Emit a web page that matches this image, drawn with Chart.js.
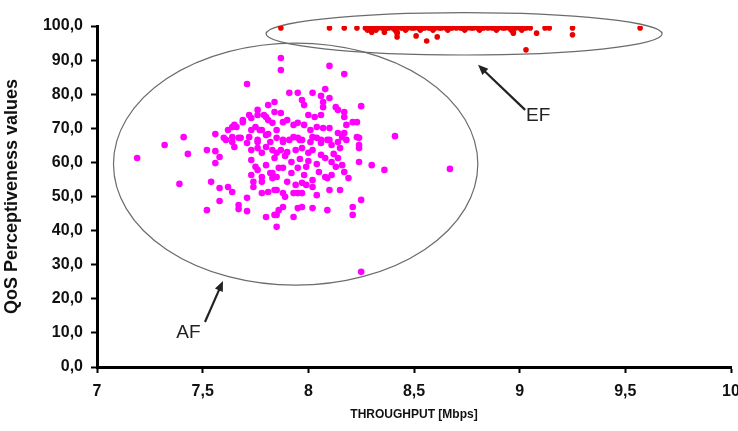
<!DOCTYPE html>
<html>
<head>
<meta charset="utf-8">
<script src="https://cdn.jsdelivr.net/npm/chart.js@4"></script>
<style>
  body { margin: 0; background: #fff; }
  #wrap { width: 738px; height: 431px; }
</style>
</head>
<body>
<div id="wrap"><canvas id="chart" width="738" height="431"></canvas></div>
<script>
// AF class (magenta) readings
const afX = [
  7.19, 7.32, 7.41, 7.43, 7.52, 7.56, 7.58, 7.56, 7.39, 7.54, 7.58, 7.62, 7.64, 7.58, 7.71, 7.52, 7.67, 7.67, 7.71, 7.80,
  7.85, 7.85, 7.56, 7.71, 7.87, 7.87, 8.10, 8.17, 8.25, 8.41, 8.30, 8.36, 8.67, 8.25, 8.25, 8.21, 8.21,
  7.91, 7.95, 8.02, 8.08, 7.97, 7.98, 8.06, 8.07, 8.07, 8.10, 8.13, 8.14, 8.17, 8.17, 7.84, 7.81, 7.76, 7.72, 7.69, 7.66,
  7.84, 7.87, 7.79, 7.81, 7.83, 7.75, 7.78, 7.88, 7.90, 7.93, 7.95, 7.98, 8.00, 8.03, 8.06, 8.01, 8.04, 8.07, 8.10, 8.18,
  8.21, 8.23, 8.23, 8.24, 8.17, 8.18, 7.64, 7.64, 7.68, 7.72, 7.76, 7.81, 7.85, 7.88, 7.93, 7.96, 8.02, 8.06, 8.10, 8.14,
  7.62, 7.65, 7.69, 7.73, 7.76, 7.77, 7.73, 7.80, 7.60, 7.67,
  7.61, 7.64, 7.65, 7.71, 7.73, 7.76, 7.76, 7.78, 7.80, 7.82, 7.83, 7.73, 7.75, 7.76, 7.73, 7.74, 7.74, 7.78, 7.78, 7.82,
  7.83, 7.86, 7.81, 7.78, 7.85, 7.85, 7.80,
  7.85, 7.88, 7.91, 7.95, 7.97, 8.01, 8.04, 8.06, 8.09, 8.11, 8.14, 8.15, 8.16, 7.87, 7.90, 7.94, 7.97, 8.00, 8.02, 8.06,
  8.08, 8.11, 7.84, 7.88, 7.95, 7.99, 7.83, 7.85, 7.90, 7.94, 7.97, 7.99, 8.02, 8.02, 8.08, 8.09, 8.11, 8.13, 8.16, 8.17,
  8.19, 8.24, 8.24, 7.84, 7.88, 7.89, 7.93, 7.95, 7.97, 8.04, 8.10, 8.15, 7.88, 7.86, 7.84, 7.95, 7.97, 7.93, 8.02, 8.09,
  8.24, 7.80, 7.92, 7.96, 8.00, 8.04, 7.89, 8.12, 8.14, 7.98, 8.05, 7.92
];
const afY = [
  61.3, 65.1, 67.4, 62.5, 63.6, 63.3, 61.6, 59.8, 53.7, 54.3, 52.5, 52.8, 51.3, 48.7, 49.6, 46.0, 47.5, 46.3, 45.7, 44.0,
  44.6, 41.1, 68.3, 83.0, 90.6, 87.1, 88.3, 85.9, 76.5, 67.7, 59.2, 57.8, 58.1, 49.0, 27.9, 44.6, 46.9,
  80.4, 80.4, 80.4, 81.5, 78.3, 76.8, 79.5, 77.7, 76.2, 78.9, 76.2, 75.4, 74.8, 73.3, 77.7, 76.8, 75.4, 73.9, 71.8, 70.4,
  74.8, 74.5, 73.9, 72.4, 71.6, 70.4, 69.5, 71.8, 72.4, 71.0, 71.6, 71.0, 73.9, 73.3, 73.9, 69.5, 70.4, 70.1, 70.1, 71.0,
  71.8, 71.8, 67.4, 65.1, 68.6, 66.6, 70.4, 67.4, 67.2, 67.4, 66.6, 68.3, 69.5, 66.6, 67.4, 66.6, 67.4, 66.6, 66.6, 68.6,
  69.5, 71.0, 72.4, 73.0, 73.9, 69.5, 69.5, 73.3, 67.2, 67.2,
  66.6, 66.0, 64.5, 65.7, 63.6, 66.0, 64.2, 62.8, 64.5, 66.0, 63.6, 60.7, 58.7, 57.8, 56.3, 54.3, 52.8, 55.7, 54.3, 56.9,
  55.4, 58.4, 51.3, 51.0, 51.9, 62.8, 59.2,
  67.2, 66.0, 66.6, 67.2, 66.6, 66.0, 67.2, 65.7, 66.6, 65.1, 66.0, 64.2, 67.4, 63.6, 63.0, 63.6, 64.2, 62.8, 63.6, 62.2,
  61.3, 60.1, 61.3, 58.4, 58.4, 58.7, 56.9, 55.7, 54.3, 53.4, 54.0, 53.4, 54.8, 52.8, 55.7, 55.4, 56.3, 58.7, 59.2, 57.2,
  55.4, 64.2, 60.1, 51.9, 51.0, 49.9, 51.0, 51.0, 51.0, 50.4, 51.9, 51.9, 46.9, 46.0, 44.6, 46.6, 46.9, 44.0, 46.6, 46.0,
  67.2, 68.0, 60.1, 61.0, 60.4, 59.5, 61.9, 62.5, 61.3, 56.3, 57.2, 56.9
];

// EF class (red) readings
const efX = [
  7.87, 8.10, 8.17, 8.23, 8.27, 8.29, 8.31, 8.33, 8.35, 8.37, 8.38, 8.40, 8.42, 8.44, 8.45, 8.47, 8.49, 8.50, 8.52, 8.54,
  8.55, 8.57, 8.58, 8.60, 8.62, 8.63, 8.65, 8.67, 8.68, 8.70, 8.72, 8.73, 8.75, 8.77, 8.78, 8.80, 8.82, 8.83, 8.85, 8.87,
  8.88, 8.90, 8.92, 8.93, 8.95, 8.97, 8.98, 9.00, 9.02, 9.03, 9.05, 9.12, 9.14, 9.25, 9.57,
  8.28, 8.32, 8.36, 8.41, 8.46, 8.53, 8.59, 8.66, 8.74, 8.81, 8.89, 8.96, 9.01,
  8.30, 8.36, 8.42, 8.97, 8.42, 8.42, 8.51, 8.56, 8.61, 8.97, 9.08, 9.03, 9.25
];
const efY = [
  99.4, 99.4, 99.4, 99.4, 99.4, 99.4, 99.4, 99.4, 99.4, 99.4, 99.4, 99.4, 99.4, 99.4, 99.4, 99.4, 99.4, 99.4, 99.4, 99.4,
  99.4, 99.4, 99.4, 99.4, 99.4, 99.4, 99.4, 99.4, 99.4, 99.4, 99.4, 99.4, 99.4, 99.4, 99.4, 99.4, 99.4, 99.4, 99.4, 99.4,
  99.4, 99.4, 99.4, 99.4, 99.4, 99.4, 99.4, 99.4, 99.4, 99.4, 99.4, 99.4, 99.4, 99.4, 99.4,
  98.8, 98.8, 98.8, 98.8, 98.8, 98.8, 98.8, 98.8, 98.8, 98.8, 98.8, 98.8, 98.8,
  98.2, 98.2, 98.2, 98.2, 96.8, 97.9, 97.1, 95.6, 96.8, 97.9, 97.9, 93.0, 97.4
];

const xTicks = [7, 7.5, 8, 8.5, 9, 9.5, 10];
const yTicks = [0, 10, 20, 30, 40, 50, 60, 70, 80, 90, 100];

const toPoints = (xs, ys) => xs.map((x, i) => ({ x: x, y: ys[i] }));
const comma = (v, d) => v.toFixed(d).replace('.', ',');

// ellipses around the two classes and the labelled arrows
const groupMarks = {
  id: 'groupMarks',
  beforeDatasetsDraw(chart) {
    const { ctx, scales: { x, y } } = chart;
    const ring = (cxv, cyv, rxv, ryv) => {
      const cx = x.getPixelForValue(cxv);
      const cy = y.getPixelForValue(cyv);
      const rx = x.getPixelForValue(cxv + rxv) - cx;
      const ry = cy - y.getPixelForValue(cyv + ryv);
      ctx.beginPath();
      ctx.ellipse(cx, cy, rx, ry, 0, 0, Math.PI * 2);
      ctx.stroke();
    };
    ctx.save();
    ctx.strokeStyle = '#6b6b6b';
    ctx.lineWidth = 1.2;
    ring(7.94, 59.5, 0.862, 35.5);
    ring(8.737, 97.7, 0.937, 6.2);
    ctx.restore();
  },
  afterDatasetsDraw(chart) {
    const { ctx, scales: { x, y } } = chart;
    const arrow = (x0, y0, x1, y1) => {
      const ax = x.getPixelForValue(x0), ay = y.getPixelForValue(y0);
      const bx = x.getPixelForValue(x1), by = y.getPixelForValue(y1);
      const ang = Math.atan2(by - ay, bx - ax);
      const head = 11;
      ctx.beginPath();
      ctx.moveTo(ax, ay);
      ctx.lineTo(bx - Math.cos(ang) * head * 0.8, by - Math.sin(ang) * head * 0.8);
      ctx.stroke();
      ctx.beginPath();
      ctx.moveTo(bx, by);
      ctx.lineTo(bx - head * Math.cos(ang - 0.4), by - head * Math.sin(ang - 0.4));
      ctx.lineTo(bx - head * Math.cos(ang + 0.4), by - head * Math.sin(ang + 0.4));
      ctx.closePath();
      ctx.fill();
    };
    ctx.save();
    ctx.strokeStyle = '#222';
    ctx.fillStyle = '#222';
    ctx.lineWidth = 2.2;
    arrow(9.026, 75.4, 8.803, 88.6);
    arrow(7.511, 13.2, 7.596, 25.2);
    ctx.font = '19px "Liberation Sans", Arial, sans-serif';
    ctx.textBaseline = 'middle';
    ctx.textAlign = 'left';
    ctx.fillText('EF', x.getPixelForValue(9.03), y.getPixelForValue(73.6));
    ctx.textAlign = 'right';
    ctx.fillText('AF', x.getPixelForValue(7.49), y.getPixelForValue(10.0));
    ctx.restore();
  }
};

const tickFont = { family: '"Liberation Sans", Arial, sans-serif', size: 16, weight: 'bold' };

new Chart(document.getElementById('chart'), {
  type: 'scatter',
  data: {
    datasets: [
      {
        label: 'AF',
        data: toPoints(afX, afY),
        backgroundColor: 'rgb(255, 0, 255)',
        borderColor: 'rgb(255, 0, 255)',
        pointRadius: 3.3,
        borderWidth: 0
      },
      {
        label: 'EF',
        data: toPoints(efX, efY),
        backgroundColor: 'rgb(235, 0, 0)',
        borderColor: 'rgb(235, 0, 0)',
        pointRadius: 2.8,
        borderWidth: 0
      }
    ]
  },
  options: {
    responsive: false,
    animation: false,
    layout: { padding: { top: 26, right: 7, left: 0, bottom: 0 } },
    plugins: {
      legend: { display: false },
      tooltip: { enabled: false }
    },
    scales: {
      x: {
        type: 'linear',
        min: 7,
        max: 10,
        afterBuildTicks: (s) => { s.ticks = xTicks.map(v => ({ value: v })); },
        afterFit: (s) => { s.height = 64; s.paddingLeft = 0; s.paddingRight = 0; },
        grid: { drawOnChartArea: false, drawTicks: true, tickLength: 6, tickWidth: 2, tickColor: '#000' },
        border: { display: true, color: '#000', width: 3 },
        ticks: {
          padding: 9,
          color: '#111',
          font: tickFont,
          maxRotation: 0,
          callback: (v) => comma(v, v % 1 === 0 ? 0 : 1)
        },
        title: {
          display: true,
          text: 'THROUGHPUT [Mbps]',
          color: '#111',
          font: { family: '"Liberation Sans", Arial, sans-serif', size: 12, weight: 'bold' },
          padding: { top: 0, bottom: 9 }
        }
      },
      y: {
        type: 'linear',
        min: 0,
        max: 100,
        afterBuildTicks: (s) => { s.ticks = yTicks.map(v => ({ value: v })); },
        afterFit: (s) => { s.width = 97; s.paddingTop = 0; s.paddingBottom = 0; },
        grid: { drawOnChartArea: false, drawTicks: true, tickLength: 6, tickWidth: 2, tickColor: '#000' },
        border: { display: true, color: '#000', width: 3 },
        ticks: {
          padding: 8,
          color: '#111',
          font: tickFont,
          callback: (v) => comma(v, 1)
        },
        title: {
          display: true,
          text: 'QoS Perceptiveness values',
          color: '#111',
          font: { family: '"Liberation Sans", Arial, sans-serif', size: 18, weight: 'bold' },
          padding: { top: 1, bottom: 0 }
        }
      }
    }
  },
  plugins: [groupMarks]
});
</script>
</body>
</html>
